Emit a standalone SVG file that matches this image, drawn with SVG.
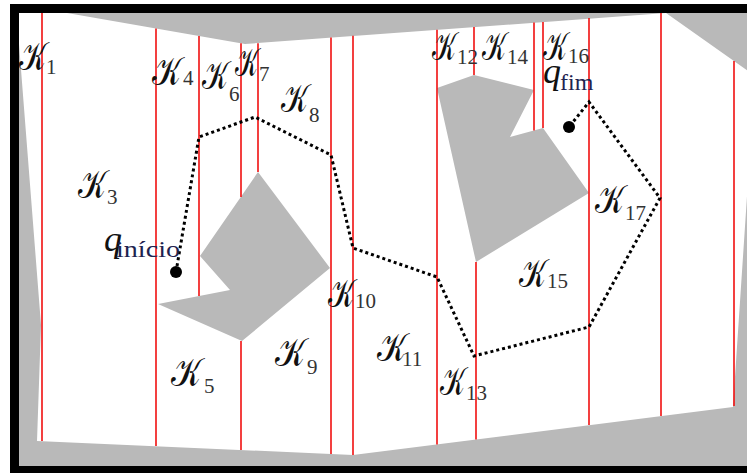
<svg xmlns="http://www.w3.org/2000/svg" width="747" height="473" viewBox="0 0 747 473">
  <style>
    .obst { fill: #b9b9b9; }
    .cell { stroke: #f01010; stroke-width: 1.6; fill: none; }
    .path { stroke: #000; stroke-width: 3; stroke-dasharray: 3 3; fill: none; }
    .k { font-family: "Liberation Serif", "DejaVu Serif", "DejaVu Sans", serif; font-size: 40px; fill: #111; }
    .sub { font-family: "Liberation Serif", "DejaVu Serif", serif; font-size: 21px; fill: #333; }
    .q { font-family: "Liberation Serif", "DejaVu Serif", serif; font-style: italic; font-size: 36px; fill: #111; }
    .qs { font-family: "Liberation Serif", "DejaVu Serif", serif; font-size: 24px; fill: #1e2350; }
  </style>
  <rect width="747" height="473" fill="#fff"/>
  <g id="frame">
    <rect x="10" y="4" width="760" height="490" fill="#000"/>
    <rect x="19" y="13" width="750" height="453" fill="#b9b9b9"/>
  </g>
  <g id="free-space">
    <polygon points="19,13 67,13 245,44 666,13 755,76 733,407 353,455 37,441 41,325 19,44" fill="#fff"/>
  </g>
  <g id="obstacle-left">
    <polygon class="obst" points="258,172 330,268 242,341 158,304 230,290 200,256"/>
  </g>
  <g id="obstacle-right">
    <polygon class="obst" points="437,88 474,75 534,90 510,137 543,128 589,193 476,262"/>
  </g>
  <g id="connectors">
    <line class="cell" x1="42" y1="13" x2="42" y2="441"/>
    <line class="cell" x1="156" y1="28.5" x2="156" y2="446"/>
    <line class="cell" x1="199" y1="36" x2="199" y2="296"/>
    <line class="cell" x1="241" y1="43.3" x2="241" y2="197"/>
    <line class="cell" x1="241" y1="341" x2="241" y2="450"/>
    <line class="cell" x1="258" y1="43.3" x2="258" y2="172"/>
    <line class="cell" x1="331" y1="37.5" x2="331" y2="454"/>
    <line class="cell" x1="353" y1="35.8" x2="353" y2="455"/>
    <line class="cell" x1="437" y1="29.8" x2="437" y2="444.4"/>
    <line class="cell" x1="474" y1="27" x2="474" y2="75"/>
    <line class="cell" x1="476" y1="262" x2="476" y2="439.5"/>
    <line class="cell" x1="534" y1="22.6" x2="534" y2="130.5"/>
    <line class="cell" x1="543" y1="22" x2="543" y2="128"/>
    <line class="cell" x1="589" y1="18" x2="589" y2="425"/>
    <line class="cell" x1="661" y1="13" x2="661" y2="416"/>
    <line class="cell" x1="734" y1="61" x2="734" y2="406"/>
    <polyline class="path" points="176,272 199,137 255,117 331,155 353,248 437,277 474,356 589,327 660,198 589,102 569,127"/>
    <circle cx="176" cy="272" r="6" fill="#000"/>
    <circle cx="569" cy="127" r="6" fill="#000"/>
  </g>
  <g id="labels">
    <g id="K1"><text class="k" x="19" y="70" textLength="27" lengthAdjust="spacingAndGlyphs">𝒦</text><text class="sub" x="46" y="74">1</text></g>
    <g id="K3"><text class="k" x="78" y="198" textLength="28" lengthAdjust="spacingAndGlyphs">𝒦</text><text class="sub" x="107" y="204">3</text></g>
    <g id="K4"><text class="k" x="152" y="85" textLength="29" lengthAdjust="spacingAndGlyphs">𝒦</text><text class="sub" x="183" y="85">4</text></g>
    <g id="K5"><text class="k" x="171" y="386" textLength="30" lengthAdjust="spacingAndGlyphs">𝒦</text><text class="sub" x="204" y="393">5</text></g>
    <g id="K6"><text class="k" x="202" y="89" textLength="26" lengthAdjust="spacingAndGlyphs">𝒦</text><text class="sub" x="229" y="101">6</text></g>
    <g id="K7"><text class="k" x="235" y="76" textLength="23" lengthAdjust="spacingAndGlyphs">𝒦</text><text class="sub" x="259" y="81">7</text></g>
    <g id="K8"><text class="k" x="281" y="112" textLength="27" lengthAdjust="spacingAndGlyphs">𝒦</text><text class="sub" x="309" y="122">8</text></g>
    <g id="K9"><text class="k" x="275" y="366" textLength="30" lengthAdjust="spacingAndGlyphs">𝒦</text><text class="sub" x="307" y="374">9</text></g>
    <g id="K10"><text class="k" x="328" y="307" textLength="26" lengthAdjust="spacingAndGlyphs">𝒦</text><text class="sub" x="355" y="308">10</text></g>
    <g id="K11"><text class="k" x="377" y="361" textLength="29" lengthAdjust="spacingAndGlyphs">𝒦</text><text class="sub" x="402" y="366">11</text></g>
    <g id="K12"><text class="k" x="432" y="60" textLength="24" lengthAdjust="spacingAndGlyphs">𝒦</text><text class="sub" x="457" y="64">12</text></g>
    <g id="K13"><text class="k" x="440" y="395" textLength="25" lengthAdjust="spacingAndGlyphs">𝒦</text><text class="sub" x="466" y="400">13</text></g>
    <g id="K14"><text class="k" x="482" y="60" textLength="24" lengthAdjust="spacingAndGlyphs">𝒦</text><text class="sub" x="507" y="64">14</text></g>
    <g id="K15"><text class="k" x="519" y="287" textLength="27" lengthAdjust="spacingAndGlyphs">𝒦</text><text class="sub" x="547" y="288">15</text></g>
    <g id="K16"><text class="k" x="543" y="60" textLength="24" lengthAdjust="spacingAndGlyphs">𝒦</text><text class="sub" x="568" y="63">16</text></g>
    <g id="K17"><text class="k" x="595" y="213" textLength="29" lengthAdjust="spacingAndGlyphs">𝒦</text><text class="sub" x="625" y="220">17</text></g>
    <g id="q-inicio"><text class="q" x="104" y="251">q</text><text class="qs" x="116" y="257" textLength="64" lengthAdjust="spacingAndGlyphs">início</text></g>
    <g id="q-fim"><text class="q" x="543" y="83">q</text><text class="qs" x="560" y="90">fim</text></g>
  </g>
</svg>
